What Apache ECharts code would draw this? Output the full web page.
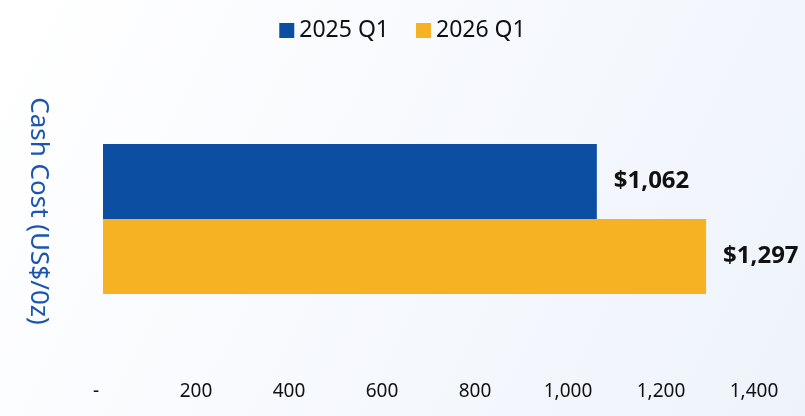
<!DOCTYPE html>
<html>
<head>
<meta charset="utf-8">
<script src="https://cdn.jsdelivr.net/npm/echarts@6/dist/echarts.min.js"></script>
<style>
  html, body { margin: 0; padding: 0; }
  #chart { width: 805px; height: 416px; }
</style>
</head>
<body>
<div id="chart"></div>
<script>
const categories = ["Cash Cost"];
const seriesNames = ["2025 Q1", "2026 Q1"];
const values2025 = [1062];
const values2026 = [1297];
const colors = ["#0b4ea2", "#f6b223"];

function fmtNum(v) {
  if (v === 0) return "-";
  return v.toLocaleString("en-US");
}

const chart = echarts.init(document.getElementById("chart"));

const barLabel = {
  show: true,
  position: "right",
  distance: 17,
  fontSize: 24,
  fontWeight: "bold",
  color: "#111",
  formatter: (p) => "$" + fmtNum(p.value),
};

chart.setOption({
  backgroundColor: new echarts.graphic.LinearGradient(0, 0, 1, 1, [
    { offset: 0, color: "#ffffff" },
    { offset: 1, color: "#eef3fb" },
  ]),
  textStyle: { fontFamily: "Noto Sans" },
  legend: {
    top: 14,
    left: "center",
    itemWidth: 15,
    itemHeight: 15,
    itemGap: 27,
    icon: "rect",
    textStyle: { fontSize: 23, color: "#111" },
    data: seriesNames,
  },
  grid: { top: 70, bottom: 48, left: 103, right: 51 },
  xAxis: {
    type: "value",
    min: 0,
    max: 1400,
    interval: 200,
    axisLine: { show: false },
    axisTick: { show: false },
    splitLine: { show: false },
    axisLabel: {
      fontSize: 19,
      color: "#111",
      margin: 14,
      formatter: (v) => (v === 0 ? "{dash|-}" : fmtNum(v)),
      rich: { dash: { fontSize: 19, color: "#111", padding: [0, 14, 0, 0] } },
    },
  },
  yAxis: {
    type: "category",
    data: categories,
    inverse: true,
    axisLine: { show: false },
    axisTick: { show: false },
    axisLabel: { show: false },
    name: "Cash Cost (US$/0z)",
    nameLocation: "middle",
    nameRotate: -90,
    nameGap: 52,
    nameTextStyle: { fontSize: 26, color: "#1a56b0", padding: [0, 16, 0, 0] },
  },
  series: [
    {
      name: seriesNames[0],
      type: "bar",
      data: values2025,
      barWidth: 75,
      barGap: "0%",
      itemStyle: { color: colors[0] },
      label: barLabel,
    },
    {
      name: seriesNames[1],
      type: "bar",
      data: values2026,
      barWidth: 75,
      barGap: "0%",
      itemStyle: { color: colors[1] },
      label: barLabel,
    },
  ],
});

window.addEventListener("resize", () => chart.resize());
</script>
</body>
</html>
